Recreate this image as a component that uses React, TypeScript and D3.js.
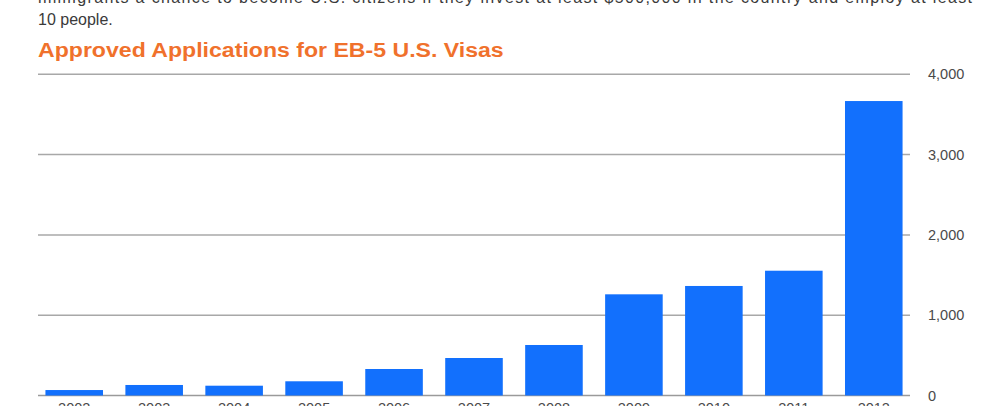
import React from "react";
import * as d3 from "d3";

// Fiscal years and approved EB-5 applications
const years = ["2002", "2003", "2004", "2005", "2006", "2007", "2008", "2009", "2010", "2011", "2012"];
const approvals = [68, 131, 122, 177, 330, 467, 629, 1260, 1364, 1554, 3667];
const yTicks = [0, 1000, 2000, 3000, 4000];

const introLines = [
  "immigrants a chance to become U.S. citizens if they invest at least $500,000 in the country and employ at least",
  "10 people.",
];
const title = "Approved Applications for EB-5 U.S. Visas";

const W = 996;
const H = 406;
const plot = { left: 38, right: 910, top: 74.3, bottom: 395.5 };

export default function App() {
  const x = d3
    .scaleBand<string>()
    .domain(years)
    .range([plot.left, plot.right])
    .paddingInner(0.28)
    .paddingOuter(0.093);
  const y = d3.scaleLinear().domain([0, 4000]).range([plot.bottom, plot.top]);
  const fmt = d3.format(",");

  return (
    <svg
      width={W}
      height={H}
      style={{ position: "absolute", left: 0, top: 0, background: "#fff" }}
      fontFamily="'Liberation Sans', Arial, Helvetica, sans-serif"
    >
      {introLines.map((t, i) => (
        <text
          key={i}
          x={38}
          y={3 + i * 22}
          fontSize={16}
          fill="#3a3a3a"
          textLength={i === 0 ? 934 : undefined}
          lengthAdjust="spacing"
        >
          {t}
        </text>
      ))}
      <text
        transform="translate(38,56.5) scale(1.1,1)"
        fontSize={21}
        fontWeight="bold"
        fill="#f0712c"
      >
        {title}
      </text>

      {yTicks.map((t) => (
        <g key={t}>
          <line
            x1={plot.left}
            x2={plot.right}
            y1={y(t)}
            y2={y(t)}
            stroke={t === 0 ? "#9a9a9a" : "#a8a8a8"}
            strokeWidth={1.5}
          />
          <text x={928} y={y(t) + 5} fontSize={14.5} fill="#4a4a4a">
            {fmt(t)}
          </text>
        </g>
      ))}

      {years.map((yr, i) => (
        <rect
          key={yr}
          x={x(yr)}
          y={y(approvals[i])}
          width={x.bandwidth()}
          height={y(0) - y(approvals[i])}
          fill="#1270fd"
        />
      ))}

      {years.map((yr) => (
        <text
          key={yr}
          x={(x(yr) ?? 0) + x.bandwidth() / 2}
          y={413}
          fontSize={14.5}
          fill="#4a4a4a"
          textAnchor="middle"
        >
          {yr}
        </text>
      ))}
    </svg>
  );
}
